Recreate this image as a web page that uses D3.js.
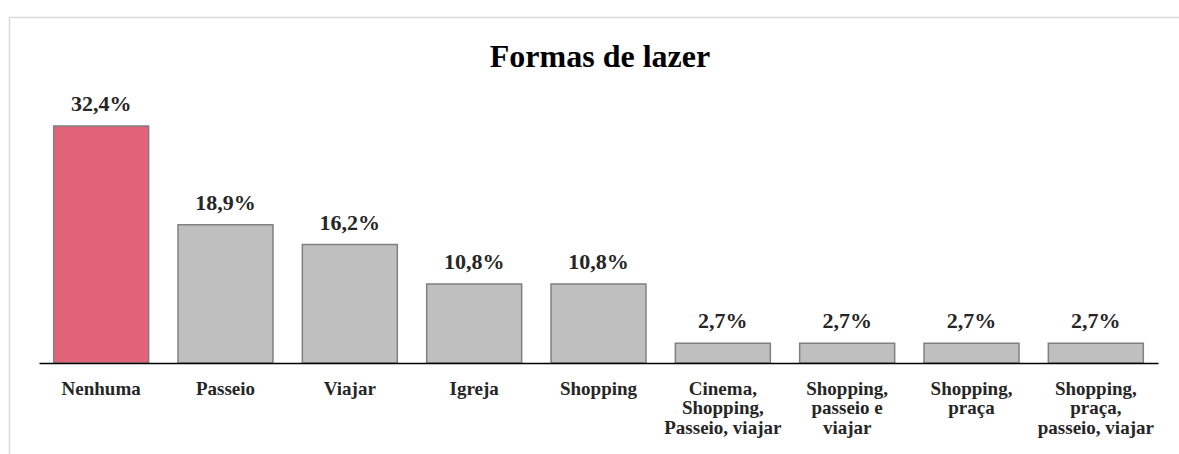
<!DOCTYPE html>
<html>
<head>
<meta charset="utf-8">
<script src="https://cdn.jsdelivr.net/npm/d3@7"></script>
<style>
  body { margin: 0; background: #fff; }
</style>
</head>
<body>
<div id="chart"></div>
<script>
const width = 1179;
const height = 454;

const categories = [
  ["Nenhuma"],
  ["Passeio"],
  ["Viajar"],
  ["Igreja"],
  ["Shopping"],
  ["Cinema,", "Shopping,", "Passeio, viajar"],
  ["Shopping,", "passeio e", "viajar"],
  ["Shopping,", "praça"],
  ["Shopping,", "praça,", "passeio, viajar"]
];
const values = [32.4, 18.9, 16.2, 10.8, 10.8, 2.7, 2.7, 2.7, 2.7];
const valueLabels = ["32,4%", "18,9%", "16,2%", "10,8%", "10,8%", "2,7%", "2,7%", "2,7%", "2,7%"];

const font = "'Liberation Serif', 'Times New Roman', Times, serif";

const svg = d3.select("#chart")
  .append("svg")
  .attr("width", width)
  .attr("height", height)
  .attr("font-family", font)
  .attr("font-weight", "bold");

// chart frame (runs past the right and bottom edges)
svg.append("rect")
  .attr("x", 9.5)
  .attr("y", 17.5)
  .attr("width", width + 20)
  .attr("height", height + 20)
  .attr("fill", "none")
  .attr("stroke", "#d9d9d9")
  .attr("stroke-width", 1.5);

const x = d3.scaleBand()
  .domain(d3.range(values.length))
  .range([39, 1158])
  .paddingInner(0.236)
  .paddingOuter(0.118);

const y = d3.scaleLinear()
  .domain([0, 32.4])
  .range([363, 126]);

svg.append("text")
  .attr("x", 600)
  .attr("y", 67)
  .attr("text-anchor", "middle")
  .attr("font-size", 32)
  .attr("fill", "#000")
  .text("Formas de lazer");

svg.selectAll("rect.bar")
  .data(values)
  .enter().append("rect")
  .attr("class", "bar")
  .attr("x", (d, i) => x(i))
  .attr("y", d => y(d))
  .attr("width", x.bandwidth())
  .attr("height", d => y(0) - y(d))
  .attr("fill", (d, i) => i === 0 ? "#e06377" : "#bfbfbf")
  .attr("stroke", "#808080")
  .attr("stroke-width", 1.5);

svg.selectAll("text.val")
  .data(values)
  .enter().append("text")
  .attr("class", "val")
  .attr("x", (d, i) => x(i) + x.bandwidth() / 2)
  .attr("y", d => y(d) - 15)
  .attr("text-anchor", "middle")
  .attr("font-size", 22)
  .attr("fill", "#262626")
  .text((d, i) => valueLabels[i]);

// baseline
svg.append("g")
  .attr("transform", `translate(0,${y(0)})`)
  .call(d3.axisBottom(x).tickSize(0).tickFormat(""))
  .call(g => g.select(".domain").attr("stroke", "#000").attr("stroke-width", 1.5));

const lbl = svg.selectAll("text.cat")
  .data(categories)
  .enter().append("text")
  .attr("class", "cat")
  .attr("text-anchor", "middle")
  .attr("font-size", 19)
  .attr("fill", "#262626")
  .attr("transform", (d, i) => `translate(${x(i) + x.bandwidth() / 2},394.5)`);

lbl.selectAll("tspan")
  .data(d => d)
  .enter().append("tspan")
  .attr("x", 0)
  .attr("y", (d, j) => j * 19.5)
  .text(d => d);
</script>
</body>
</html>
